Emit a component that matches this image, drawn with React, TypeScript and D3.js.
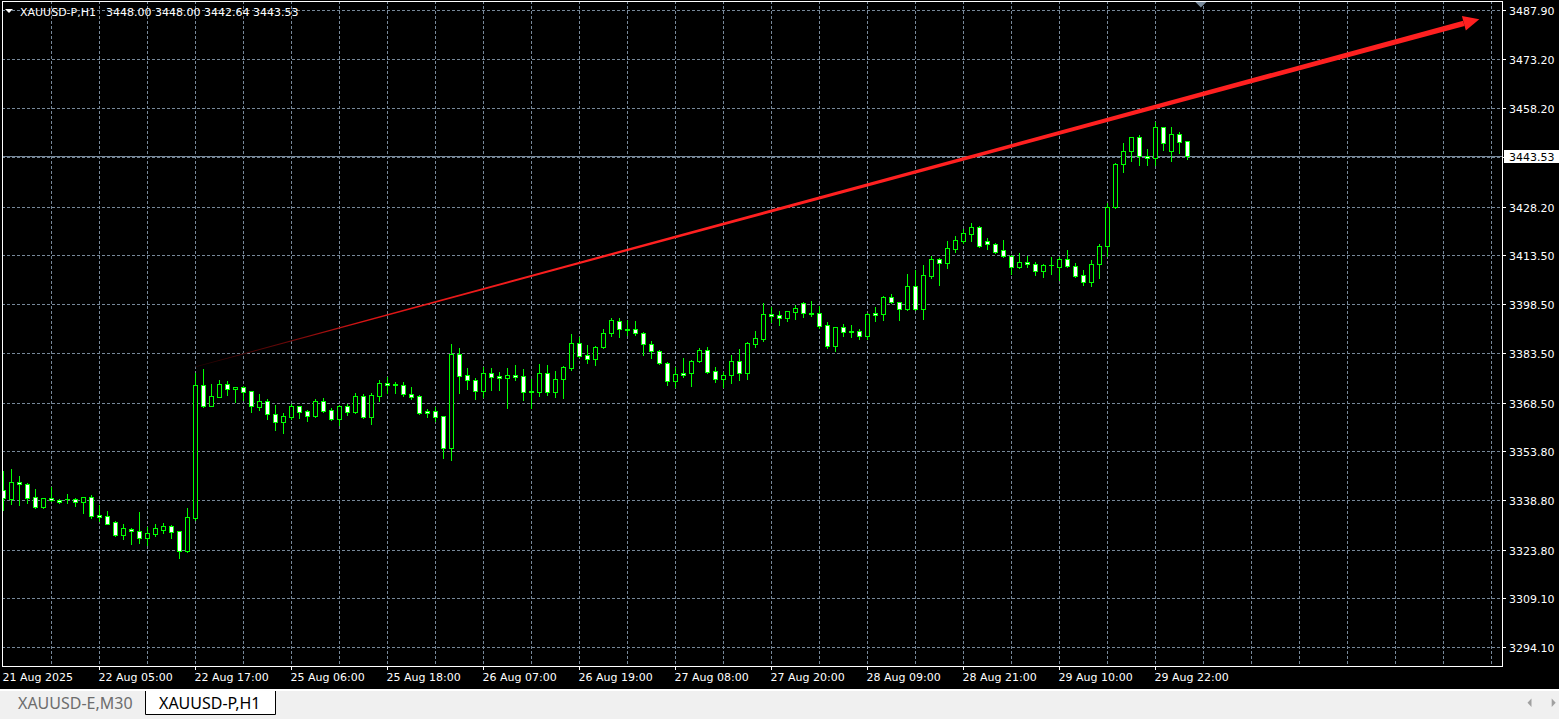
import React from 'react';
import * as d3 from 'd3';

const SYMBOL = 'XAUUSD-P,H1';
const TABS = ['XAUUSD-E,M30', 'XAUUSD-P,H1'];
const ACTIVE_TAB = 1;

const opens = [
  3341.9, 3339.2, 3344.4, 3343.8, 3339.8, 3336.8, 3339.5, 3338.9, 3339.2, 3339.2,
  3338.3, 3339.8, 3334.4, 3334.0, 3332.2, 3328.3, 3330.1, 3329.5, 3327.4, 3328.6,
  3329.8, 3331.0, 3329.5, 3323.4, 3333.4, 3373.9, 3367.5, 3370.2, 3374.2, 3372.7,
  3373.3, 3372.1, 3367.2, 3369.0, 3365.1, 3362.6, 3364.2, 3367.5, 3366.0, 3364.5,
  3369.0, 3366.3, 3363.6, 3367.5, 3365.7, 3370.6, 3364.2, 3370.6, 3374.5, 3374.2,
  3373.9, 3371.2, 3370.6, 3366.0, 3366.0, 3364.5, 3354.7, 3383.3, 3376.9, 3375.4,
  3372.1, 3377.5, 3376.6, 3376.0, 3376.9, 3376.6, 3372.1, 3371.8, 3377.5, 3371.8,
  3375.7, 3379.1, 3386.7, 3383.0, 3381.8, 3385.5, 3389.7, 3393.4, 3390.9, 3390.9,
  3389.7, 3386.4, 3384.2, 3380.6, 3375.1, 3377.5, 3377.5, 3381.2, 3384.5, 3378.2,
  3375.7, 3376.9, 3381.2, 3377.5, 3386.4, 3387.9, 3395.5, 3395.2, 3394.3, 3396.1,
  3398.9, 3395.8, 3395.8, 3392.2, 3385.8, 3391.5, 3390.3, 3390.3, 3388.8, 3395.8,
  3395.5, 3400.7, 3399.2, 3397.0, 3404.0, 3397.0, 3407.1, 3412.2, 3411.0, 3415.3,
  3417.7, 3419.8, 3422.0, 3417.7, 3416.8, 3415.0, 3413.2, 3409.8, 3411.3, 3410.7,
  3408.6, 3410.4, 3409.8, 3412.2, 3410.1, 3407.4, 3405.2, 3410.7, 3416.2, 3428.1,
  3441.1, 3445.1, 3449.4, 3443.6, 3443.0, 3452.4, 3445.1, 3450.3, 3448.0,
];
const highs = [
  3347.7, 3348.3, 3346.2, 3344.1, 3342.3, 3339.6, 3342.9, 3339.2, 3340.7, 3339.5,
  3339.9, 3340.4, 3337.4, 3335.6, 3332.5, 3331.6, 3330.4, 3335.3, 3330.7, 3331.6,
  3331.9, 3331.3, 3329.6, 3336.5, 3377.5, 3378.8, 3374.2, 3375.4, 3375.1, 3373.4,
  3373.6, 3372.2, 3371.2, 3369.6, 3367.8, 3365.4, 3368.1, 3367.6, 3366.3, 3369.6,
  3369.9, 3366.9, 3367.8, 3368.1, 3371.5, 3371.2, 3371.5, 3375.4, 3376.3, 3374.8,
  3374.8, 3373.3, 3370.9, 3366.6, 3367.2, 3364.6, 3386.4, 3385.2, 3379.1, 3376.0,
  3379.4, 3379.1, 3377.9, 3379.1, 3380.0, 3378.8, 3375.7, 3380.3, 3380.0, 3378.2,
  3379.7, 3389.4, 3388.5, 3386.1, 3385.8, 3390.9, 3394.3, 3394.3, 3393.7, 3393.4,
  3390.0, 3387.3, 3384.5, 3380.9, 3379.4, 3382.1, 3381.5, 3385.2, 3385.5, 3379.4,
  3377.9, 3383.0, 3384.9, 3387.0, 3390.3, 3398.9, 3397.6, 3396.4, 3396.5, 3398.2,
  3399.2, 3399.5, 3397.9, 3393.1, 3391.6, 3392.5, 3392.2, 3390.9, 3395.8, 3397.6,
  3401.0, 3401.6, 3399.3, 3407.7, 3408.9, 3410.4, 3413.2, 3412.4, 3417.7, 3419.2,
  3421.4, 3423.2, 3422.3, 3418.6, 3417.1, 3418.0, 3413.5, 3414.1, 3413.2, 3411.3,
  3410.7, 3412.8, 3412.8, 3415.0, 3411.0, 3408.9, 3411.9, 3416.8, 3429.3, 3441.3,
  3447.5, 3449.5, 3450.0, 3445.7, 3453.9, 3452.5, 3452.4, 3450.9, 3448.0,
];
const lows = [
  3335.9, 3337.7, 3337.4, 3338.0, 3336.5, 3336.5, 3338.6, 3338.0, 3338.0, 3337.1,
  3335.0, 3333.4, 3332.5, 3331.5, 3328.0, 3327.0, 3325.5, 3325.8, 3325.2, 3328.0,
  3328.9, 3327.4, 3321.3, 3323.1, 3332.8, 3367.2, 3367.4, 3370.1, 3370.9, 3368.7,
  3369.3, 3365.7, 3366.3, 3363.6, 3360.2, 3359.3, 3363.6, 3363.9, 3362.9, 3364.2,
  3365.8, 3363.3, 3361.7, 3364.8, 3365.4, 3363.9, 3362.0, 3369.0, 3371.5, 3371.5,
  3370.6, 3369.6, 3365.1, 3364.2, 3362.9, 3351.7, 3351.1, 3371.5, 3372.7, 3369.6,
  3370.2, 3372.4, 3372.4, 3366.9, 3375.4, 3369.3, 3366.9, 3370.6, 3370.9, 3370.2,
  3369.9, 3378.5, 3382.4, 3380.6, 3380.0, 3385.2, 3388.8, 3388.5, 3389.1, 3389.1,
  3383.0, 3382.1, 3380.3, 3373.9, 3373.3, 3376.3, 3373.6, 3380.9, 3377.5, 3374.8,
  3373.3, 3374.5, 3375.4, 3375.7, 3385.5, 3387.3, 3393.1, 3392.2, 3393.4, 3394.0,
  3394.6, 3394.9, 3391.2, 3385.2, 3384.2, 3388.8, 3388.5, 3387.9, 3387.9, 3393.4,
  3393.7, 3398.9, 3393.7, 3396.7, 3396.7, 3394.0, 3406.5, 3404.3, 3409.5, 3414.4,
  3417.1, 3417.7, 3415.9, 3415.3, 3414.1, 3412.8, 3407.7, 3409.5, 3409.8, 3407.4,
  3406.8, 3407.7, 3405.9, 3409.8, 3406.8, 3404.3, 3404.0, 3406.5, 3413.2, 3427.9,
  3438.7, 3442.1, 3440.8, 3440.8, 3440.8, 3445.4, 3442.1, 3444.5, 3442.64,
];
const closes = [
  3339.5, 3344.4, 3343.8, 3339.5, 3336.8, 3339.5, 3338.9, 3338.3, 3339.1, 3338.3,
  3339.8, 3334.0, 3333.7, 3331.6, 3328.3, 3330.4, 3329.5, 3327.4, 3328.9, 3330.4,
  3331.0, 3329.2, 3323.4, 3333.7, 3373.9, 3367.5, 3370.6, 3374.2, 3372.7, 3373.3,
  3371.8, 3367.5, 3369.0, 3365.1, 3362.6, 3364.5, 3367.5, 3365.7, 3364.5, 3369.0,
  3366.0, 3363.6, 3367.5, 3365.7, 3370.6, 3364.2, 3370.9, 3374.5, 3373.9, 3373.9,
  3371.2, 3370.2, 3365.4, 3365.4, 3364.2, 3354.7, 3383.3, 3376.6, 3375.4, 3372.1,
  3377.5, 3376.3, 3376.0, 3376.9, 3376.3, 3371.8, 3371.8, 3377.5, 3371.8, 3375.7,
  3379.4, 3386.7, 3382.7, 3381.8, 3385.5, 3389.7, 3393.7, 3390.9, 3390.6, 3389.7,
  3386.4, 3384.2, 3380.6, 3375.1, 3377.2, 3376.9, 3381.2, 3384.5, 3377.9, 3375.7,
  3376.9, 3381.2, 3377.5, 3386.7, 3388.2, 3395.5, 3394.9, 3394.3, 3396.4, 3397.3,
  3395.8, 3395.5, 3391.9, 3385.8, 3391.5, 3390.0, 3390.0, 3388.8, 3395.5, 3395.2,
  3400.7, 3399.2, 3397.0, 3404.0, 3397.0, 3407.4, 3412.2, 3411.0, 3415.6, 3418.0,
  3420.1, 3422.0, 3416.2, 3416.8, 3414.4, 3413.2, 3409.8, 3411.3, 3410.7, 3408.6,
  3410.4, 3410.3, 3412.2, 3410.1, 3407.1, 3405.2, 3410.7, 3416.2, 3428.1, 3441.1,
  3445.1, 3449.4, 3443.6, 3443.0, 3452.4, 3447.5, 3450.3, 3447.8, 3443.53,
];

const timeLabels = [
  '21 Aug 2025', '22 Aug 05:00', '22 Aug 17:00', '25 Aug 06:00', '25 Aug 18:00',
  '26 Aug 07:00', '26 Aug 19:00', '27 Aug 08:00', '27 Aug 20:00', '28 Aug 09:00',
  '28 Aug 21:00', '29 Aug 10:00', '29 Aug 22:00',
];
const timeLabelBars = [0, 12, 24, 36, 48, 60, 72, 84, 96, 108, 120, 132, 144];

const priceTicks = [
  3487.9, 3473.2, 3458.2, 3443.2, 3428.2, 3413.5, 3398.5, 3383.5, 3368.5,
  3353.8, 3338.8, 3323.8, 3309.1, 3294.1,
];

// trend arrow anchors: [bar index, price]
const trendStart = [24, 3379.4];
const trendEnd = [184.5, 3485.2];

const FONT = '"DejaVu Sans", Verdana, sans-serif';
const GREEN = '#00ff00';
const GRID = '#778899';

export default function App() {
  const W = 1559;
  const H = 719;
  const left = 2, right = 1502, top = 1, bottom = 666;
  const visibleBars = 187;
  const x = d3.scaleLinear().domain([0, visibleBars]).range([3.3, 3.3 + 8 * visibleBars]);
  const y = d3.scaleLinear().domain([3294.1, 3487.9]).range([647.3, 10.3]);
  const px = (v: number) => Math.round(v) + 0.5;

  const n = closes.length;
  const last = n - 1;

  const vGrid: number[] = [];
  for (let b = 6; x(b) < right - 2; b += 6) vGrid.push(px(x(b)));

  const candles = closes.map((c, i) => {
    const o = opens[i], h = highs[i], l = lows[i];
    const cx = px(x(i));
    const yTop = px(y(Math.max(o, c)));
    const yBot = px(y(Math.min(o, c)));
    const yH = Math.round(y(h));
    const yL = Math.round(y(l)) + 1;
    const bull = c >= o;
    return (
      <g key={i}>
        <line x1={cx} x2={cx} y1={yH} y2={yL} stroke={GREEN} strokeWidth={1} />
        {yBot - yTop < 1 ? (
          <line x1={cx - 2.5} x2={cx + 2.5} y1={yTop} y2={yTop} stroke={GREEN} strokeWidth={1} />
        ) : (
          <rect x={cx - 2} y={yTop} width={4} height={yBot - yTop}
            fill={bull ? '#000000' : '#ffffff'} stroke={GREEN} strokeWidth={1} />
        )}
      </g>
    );
  });

  const p0 = [x(trendStart[0]), y(trendStart[1])];
  const p1 = [x(trendEnd[0]), y(trendEnd[1])];
  const dx = p1[0] - p0[0], dy = p1[1] - p0[1];
  const len = Math.hypot(dx, dy);
  const ux = dx / len, uy = dy / len;
  const nx = -uy, ny = ux;
  const headLen = 16, headHalf = 7.5, w0 = 0.7, w1 = 5.5;
  const bx = p1[0] - ux * headLen, by = p1[1] - uy * headLen;
  const shaft = [
    [p0[0] + nx * w0 / 2, p0[1] + ny * w0 / 2],
    [bx + nx * w1 / 2, by + ny * w1 / 2],
    [bx - nx * w1 / 2, by - ny * w1 / 2],
    [p0[0] - nx * w0 / 2, p0[1] - ny * w0 / 2],
  ];
  const head = [
    [p1[0], p1[1]],
    [bx + nx * headHalf, by + ny * headHalf],
    [bx - nx * headHalf, by - ny * headHalf],
  ];
  const poly = (pts: number[][]) => pts.map((p) => p.join(',')).join(' ');

  const curY = px(y(closes[last]));
  const header = `${opens[last].toFixed(2)} ${highs[last].toFixed(2)} ${lows[last].toFixed(2)} ${closes[last].toFixed(2)}`;
  const shiftX = x(last + 1.7);

  return (
    <svg width={W} height={H} style={{ position: 'absolute', left: 0, top: 0, display: 'block' }}
      fontFamily={FONT}>
      <defs>
        <clipPath id="plotClip">
          <rect x={left + 1} y={top + 1} width={right - left - 1} height={bottom - top - 1} />
        </clipPath>
        <linearGradient id="trendGrad" gradientUnits="userSpaceOnUse"
          x1={p0[0]} y1={p0[1]} x2={p1[0]} y2={p1[1]}>
          <stop offset="0" stopColor="#1a0000" />
          <stop offset="0.07" stopColor="#6a0808" />
          <stop offset="0.13" stopColor="#d81414" />
          <stop offset="0.3" stopColor="#ff2020" />
          <stop offset="1" stopColor="#ff2020" />
        </linearGradient>
      </defs>
      <rect x={0} y={0} width={W} height={H} fill="#000000" />

      <g clipPath="url(#plotClip)">
        {priceTicks.map((t) => (
          <line key={'h' + t} x1={left} x2={right} y1={px(y(t))} y2={px(y(t))}
            stroke={GRID} strokeWidth={1} strokeDasharray="3,2" />
        ))}
        {vGrid.map((gx) => (
          <line key={'v' + gx} x1={gx} x2={gx} y1={top} y2={bottom}
            stroke={GRID} strokeWidth={1} strokeDasharray="3,2" />
        ))}
        <line x1={left} x2={right} y1={curY} y2={curY} stroke={GRID} strokeWidth={1} />
        {candles}
        <polygon points={poly(shaft)} fill="url(#trendGrad)" />
        <polygon points={poly(head)} fill="#ff2020" />
      </g>

      <rect x={left + 0.5} y={top + 0.5} width={right - left} height={bottom - top}
        fill="none" stroke="#ffffff" strokeWidth={1} />

      <polygon points="5,9 13,9 9,13" fill="#ffffff" />
      <text x={20} y={16} fill="#ffffff" fontSize={11}>{SYMBOL}</text>
      <text x={106} y={16} fill="#ffffff" fontSize={11}>{header}</text>

      <polygon points={`${shiftX - 5.5},2 ${shiftX + 5.5},2 ${shiftX},7.5`} fill={GRID} />

      {priceTicks.map((t) => (
        <g key={'pt' + t}>
          <line x1={right} x2={right + 4} y1={px(y(t))} y2={px(y(t))} stroke="#ffffff" />
          <text x={1509} y={Math.round(y(t)) + 4.5} fill="#ffffff" fontSize={11}>{t.toFixed(2)}</text>
        </g>
      ))}
      <rect x={1504} y={curY - 6.5} width={55} height={13} fill="#ffffff" />
      <text x={1509} y={curY + 4} fill="#000000" fontSize={11}>{closes[last].toFixed(2)}</text>

      {timeLabels.map((lab, i) => {
        const tx = px(x(timeLabelBars[i]));
        return (
          <g key={'tl' + i}>
            {i > 0 && <line x1={tx} x2={tx} y1={bottom} y2={bottom + 4} stroke="#ffffff" />}
            <text x={tx - 1} y={681} fill="#ffffff" fontSize={11}>{lab}</text>
          </g>
        );
      })}

      <rect x={0} y={689} width={W} height={2} fill="#ffffff" />
      <rect x={0} y={691} width={W} height={28} fill="#f0f0f0" />
      <rect x={145} y={689} width={131} height={26} fill="#ffffff" />
      <path d="M145.5,691 V714.5 H275.5 V691" fill="none" stroke="#000000" strokeWidth={1} />
      <text x={18} y={709} fill={ACTIVE_TAB === 0 ? '#000000' : '#6d6d6d'} fontSize={16}
        fontFamily='"Noto Sans", sans-serif'>{TABS[0]}</text>
      <text x={159} y={709} fill={ACTIVE_TAB === 1 ? '#000000' : '#6d6d6d'} fontSize={16}
        fontFamily='"Noto Sans", sans-serif'>{TABS[1]}</text>
      <polygon points="1527.5,702.7 1531.5,698.5 1531.5,707" fill="#a0a0a0" />
      <polygon points="1555.7,702.7 1551.7,698.5 1551.7,707" fill="#a0a0a0" />
    </svg>
  );
}
